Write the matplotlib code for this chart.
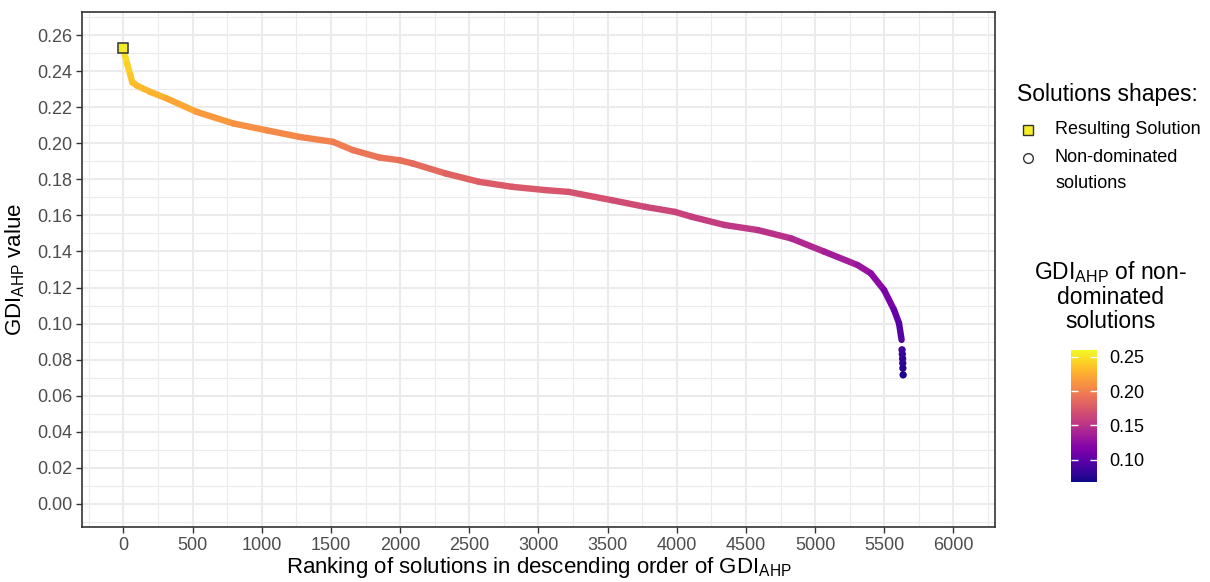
import numpy as np
import matplotlib
matplotlib.use("Agg")
import matplotlib.pyplot as plt
from matplotlib.collections import LineCollection
from matplotlib.colors import Normalize
from matplotlib.ticker import MultipleLocator

plt.rcParams['font.family'] = ['Liberation Sans', 'DejaVu Sans']
plt.rcParams['mathtext.fontset'] = 'custom'
plt.rcParams['mathtext.rm'] = 'Liberation Sans'
plt.rcParams['mathtext.it'] = 'Liberation Sans'

# values
rank = [0, 10, 26, 50, 63, 100, 194, 315, 530, 794, 1035, 1274, 1514, 1658,
        1850, 1994, 2090, 2330, 2570, 2810, 3050, 3218, 3530, 3770, 3986,
        4106, 4346, 4586, 4826, 5066, 5306, 5402, 5498, 5570, 5606, 5625]
gdi = [0.2532, 0.2490, 0.2443, 0.2378, 0.2340, 0.2320, 0.2286, 0.2249,
       0.2175, 0.2111, 0.2073, 0.2036, 0.2009, 0.1963, 0.1922, 0.1907,
       0.1889, 0.1833, 0.1787, 0.1759, 0.1741, 0.1731, 0.1685, 0.1648,
       0.1620, 0.1593, 0.1547, 0.1519, 0.1473, 0.1399, 0.1325, 0.1279,
       0.1186, 0.1076, 0.1002, 0.0909]
# last isolated points at the tail
tail_rank = [5628, 5630, 5632, 5633, 5634, 5636]
tail_gdi = [0.0854, 0.0830, 0.0805, 0.0780, 0.0752, 0.0715]
best_rank = 0
best_gdi = 0.2532

cmap = plt.get_cmap('plasma')
norm = Normalize(vmin=0.0673, vmax=0.2598)

fig = plt.figure(figsize=(12.1, 5.82), dpi=100)
ax = fig.add_axes([82 / 1210, 55 / 582, 913 / 1210, 515 / 582])

ax.set_xlim(-300, 6300)
ax.set_ylim(-0.013, 0.273)
ax.xaxis.set_major_locator(MultipleLocator(500))
ax.xaxis.set_minor_locator(MultipleLocator(250))
ax.yaxis.set_major_locator(MultipleLocator(0.02))
ax.yaxis.set_minor_locator(MultipleLocator(0.01))
ax.yaxis.set_major_formatter(lambda v, p: f"{v:.2f}")
ax.grid(which='major', color='#ebebeb', lw=1.5)
ax.grid(which='minor', color='#ebebeb', lw=0.8)
ax.set_axisbelow(True)
ax.tick_params(which='minor', length=0)
ax.tick_params(which='major', length=4, width=1, color='#333333',
               labelcolor='#4d4d4d', labelsize=13, pad=3)
for s in ax.spines.values():
    s.set_color('#333333')
    s.set_linewidth(1.2)

# curve of non-dominated solutions coloured by value
pts = np.column_stack([rank, gdi])
segs = np.stack([pts[:-1], pts[1:]], axis=1)
mid = (np.array(gdi[:-1]) + np.array(gdi[1:])) / 2
lc = LineCollection(segs, colors=cmap(norm(mid)), linewidths=4.6,
                    capstyle='round', joinstyle='round', zorder=3)
ax.add_collection(lc)
ax.scatter(tail_rank, tail_gdi, c=tail_gdi, cmap=cmap, norm=norm,
           s=28, edgecolors='none', zorder=3)

ax.plot([best_rank], [best_gdi], marker='s', ms=7.7, mfc=cmap(norm(best_gdi)),
        mec='#333333', mew=1.1, ls='none', zorder=4)

ax.set_xlabel(r'Ranking of solutions in descending order of GDI$_{\mathrm{AHP}}$',
              fontsize=16, labelpad=1)
ax.set_ylabel(r'GDI$_{\mathrm{AHP}}$ value', fontsize=16, labelpad=7)

# shape legend
fig.text(1017 / 1210, 1 - 95 / 582, 'Solutions shapes:', fontsize=16.5,
         va='center', ha='left')
lax = fig.add_axes([0, 0, 1, 1])
lax.set_xlim(0, 1210)
lax.set_ylim(582, 0)
lax.axis('off')
lax.plot([1028], [130], marker='s', ms=6.5, mfc=cmap(norm(best_gdi)),
         mec='#333333', mew=1.0, ls='none')
lax.plot([1028], [158], marker='o', ms=7, mfc='none', mec='#333333',
         mew=1.0, ls='none')
lax.text(1055, 130, 'Resulting Solution', fontsize=13, va='center')
lax.text(1055, 157, 'Non-dominated', fontsize=13, va='center')
lax.text(1055, 183, 'solutions', fontsize=13, va='center')

# colour legend
lax.text(1111, 296, 'GDI$_{\\mathrm{AHP}}$ of non-\ndominated\nsolutions',
         fontsize=16.5, ha='center', va='center', linespacing=1.05)
cax = fig.add_axes([1071 / 1210, 100 / 582, 26 / 1210, 132 / 582])
sm = plt.cm.ScalarMappable(norm=norm, cmap=cmap)
cb = fig.colorbar(sm, cax=cax, ticks=[0.10, 0.15, 0.20, 0.25])
cb.outline.set_visible(False)
cb.ax.set_yticklabels(['0.10', '0.15', '0.20', '0.25'])
cb.ax.tick_params(direction='in', color='white', length=5, width=1,
                  left=True, right=True, labelsize=13, pad=9)

fig.savefig('out.png', dpi=100)
